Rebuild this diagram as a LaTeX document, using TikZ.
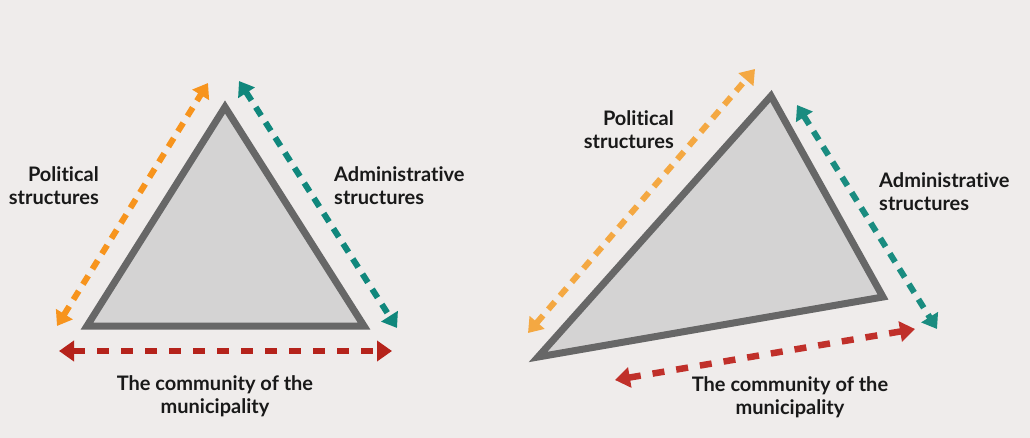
\documentclass[tikz,border=0pt]{standalone}
\usepackage{fontspec}
\setmainfont[Ligatures=NoCommon]{Lato}
\usetikzlibrary{arrows.meta}
\definecolor{bg}{HTML}{EFECEB}
\definecolor{trifill}{HTML}{D4D3D3}
\definecolor{tristroke}{HTML}{676767}
\definecolor{orangeA}{HTML}{F7941D}
\definecolor{orangeB}{HTML}{F4A842}
\definecolor{tealA}{HTML}{10877C}
\definecolor{tealB}{HTML}{1A8C80}
\definecolor{redA}{HTML}{B5231B}
\definecolor{redB}{HTML}{C0302A}
\tikzset{
  tri/.style={draw=tristroke, fill=trifill, line width=7pt, line join=miter},
  dbl/.style={line width=6pt, dash pattern=on 10pt off 8pt,
    {Triangle[length=14pt,width=19pt]}-{Triangle[length=14pt,width=19pt]}},
  redarr/.style={line width=6.5pt, dash pattern=on 12pt off 12pt,
    {Triangle[length=15pt,width=20pt]}-{Triangle[length=15pt,width=20pt]}},
  lbl/.style={font=\fontsize{20}{23}\selectfont\bfseries, text=black!90, inner sep=0pt}
}
\begin{document}
\begin{tikzpicture}[x=1pt,y=-1pt]
\path[fill=bg] (0,0) rectangle (1030,438);
\useasboundingbox (0,0) rectangle (1030,438);
% left triangle
\coordinate (T1) at (225,107);
\coordinate (L1) at (87,326);
\coordinate (R1) at (364,326);
\draw[tri] (T1) -- (L1) -- (R1) -- cycle;
\coordinate (o1a) at (57,326);
\coordinate (o1b) at (208,83);
\coordinate (t1a) at (239,81);
\coordinate (t1b) at (397,328);
\coordinate (r1a) at (59,351);
\coordinate (r1b) at (392,351);
\draw[dbl, draw=orangeA, color=orangeA] (o1a) -- (o1b);
\draw[dbl, draw=tealA, color=tealA] (t1a) -- (t1b);
\draw[redarr, draw=redA, color=redA] (r1a) -- (r1b);
\node[lbl, align=right, anchor=north east] (p1) at (99,166) {Political\\structures};
\node[lbl, align=left, anchor=north west] (a1) at (334,166) {Administrative\\structures};
\node[lbl, align=center, anchor=north] (c1) at (215,375) {The community of the\\municipality};
% right triangle
\coordinate (T2) at (771,96);
\coordinate (L2) at (538,357);
\coordinate (R2) at (883,297);
\draw[tri] (T2) -- (L2) -- (R2) -- cycle;
\coordinate (o2a) at (528,333);
\coordinate (o2b) at (755,69);
\coordinate (t2a) at (797,105);
\coordinate (t2b) at (937,329);
\coordinate (r2a) at (615,380);
\coordinate (r2b) at (915,329);
\draw[dbl, draw=orangeB, color=orangeB] (o2a) -- (o2b);
\draw[dbl, draw=tealB, color=tealB] (t2a) -- (t2b);
\draw[redarr, draw=redB, color=redB] (r2a) -- (r2b);
\node[lbl, align=right, anchor=north east] (p2) at (674,110) {Political\\structures};
\node[lbl, align=left, anchor=north west] (a2) at (879,172) {Administrative\\structures};
\node[lbl, align=center, anchor=north] (c2) at (790,376) {The community of the\\municipality};
\end{tikzpicture}
\end{document}
